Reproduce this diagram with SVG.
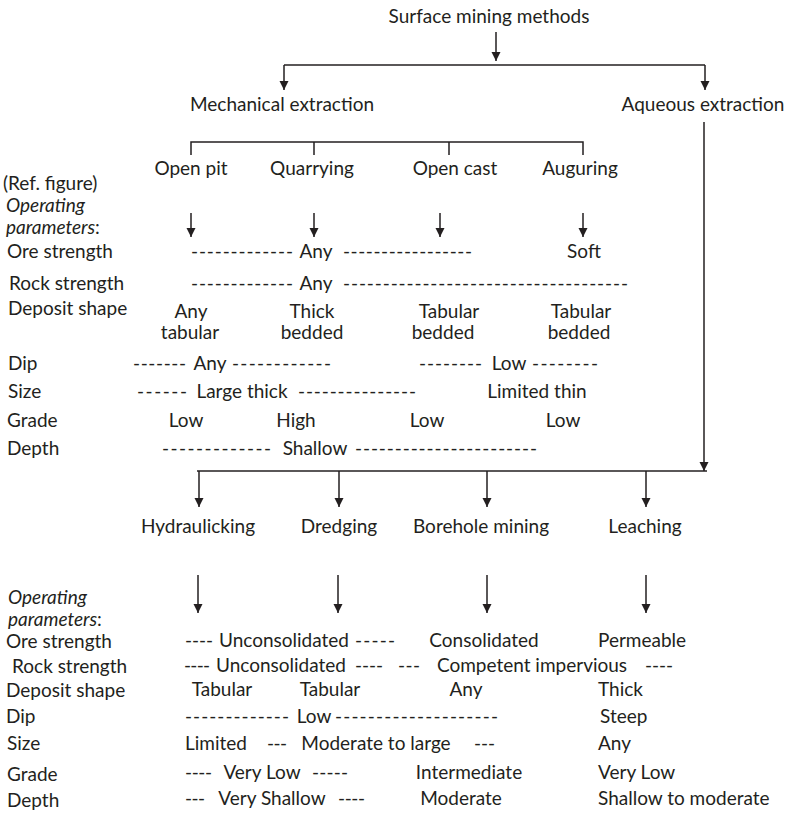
<svg xmlns="http://www.w3.org/2000/svg" width="789" height="816" viewBox="0 0 789 816">
  <style>
    text { font-family: Lato, "Open Sans", "Liberation Sans", sans-serif; font-size: 19px; fill: #231f20; }
    .c { text-anchor: middle; }
    .it { font-style: italic; }
    .ln { stroke: #231f20; stroke-width: 1.5; fill: none; }
    .ar { stroke: #231f20; stroke-width: 1.5; fill: none; marker-end: url(#tip); }
  </style>
  <defs>
    <marker id="tip" markerUnits="userSpaceOnUse" markerWidth="10" markerHeight="10" refX="9" refY="4.5" orient="auto">
      <path d="M0,0 L9,4.5 L0,9 z" fill="#231f20"/>
    </marker>
  </defs>
  <rect width="789" height="816" fill="#ffffff"/>

  <!-- connectors -->
  <g id="connectors">
    <line class="ar" x1="496" y1="32" x2="496" y2="61"/>
    <line class="ln" x1="284" y1="65" x2="705" y2="65"/>
    <line class="ar" x1="284" y1="65" x2="284" y2="90"/>
    <line class="ar" x1="705" y1="65" x2="705" y2="90"/>
    <!-- mechanical methods bracket -->
    <path class="ln" d="M191,155 V142 H583 V155 M314,142 V155 M449,142 V155"/>
    <line class="ar" x1="191" y1="213" x2="191" y2="237"/>
    <line class="ar" x1="314" y1="213" x2="314" y2="237"/>
    <line class="ar" x1="440" y1="213" x2="440" y2="237"/>
    <line class="ar" x1="583" y1="213" x2="583" y2="237"/>
    <!-- aqueous branch -->
    <line class="ar" x1="704" y1="122" x2="704" y2="471"/>
    <line class="ln" x1="197" y1="471" x2="707" y2="471"/>
    <line class="ar" x1="199" y1="471" x2="199" y2="507"/>
    <line class="ar" x1="339" y1="471" x2="339" y2="507"/>
    <line class="ar" x1="487" y1="471" x2="487" y2="507"/>
    <line class="ar" x1="646" y1="471" x2="646" y2="507"/>
    <line class="ar" x1="198" y1="575" x2="198" y2="613"/>
    <line class="ar" x1="338" y1="575" x2="338" y2="613"/>
    <line class="ar" x1="487" y1="575" x2="487" y2="613"/>
    <line class="ar" x1="646" y1="575" x2="646" y2="613"/>
  </g>

  <!-- hierarchy nodes -->
  <g id="surface-mining"><text class="c" x="489" y="23">Surface mining methods</text></g>
  <g id="mechanical"><text class="c" x="282" y="111">Mechanical extraction</text></g>
  <g id="aqueous"><text class="c" x="703" y="111">Aqueous extraction</text></g>
  <g id="open-pit"><text class="c" x="191" y="175">Open pit</text></g>
  <g id="quarrying"><text class="c" x="312" y="175">Quarrying</text></g>
  <g id="open-cast"><text class="c" x="455" y="175">Open cast</text></g>
  <g id="auguring"><text class="c" x="580" y="175">Auguring</text></g>
  <g id="hydraulicking"><text class="c" x="198" y="533">Hydraulicking</text></g>
  <g id="dredging"><text class="c" x="339" y="533">Dredging</text></g>
  <g id="borehole"><text class="c" x="481" y="533">Borehole mining</text></g>
  <g id="leaching"><text class="c" x="645" y="533">Leaching</text></g>

  <!-- mechanical extraction parameters -->
  <g id="mechanical-params">
    <text x="3" y="190">(Ref. figure)</text>
    <text x="6" y="212" class="it">Operating</text>
    <text x="6" y="234"><tspan class="it">parameters</tspan>:</text>
    <text x="7" y="258">Ore strength</text>
    <text x="9" y="290">Rock strength</text>
    <text x="8" y="315">Deposit shape</text>
    <text x="8" y="370">Dip</text>
    <text x="8" y="398">Size</text>
    <text x="7" y="427">Grade</text>
    <text x="7" y="455">Depth</text>

    <text x="191" y="258" textLength="102" lengthAdjust="spacing">-------------</text>
    <text class="c" x="316" y="258">Any</text>
    <text x="343" y="258" textLength="129" lengthAdjust="spacing">-----------------</text>
    <text class="c" x="584" y="258">Soft</text>

    <text x="191" y="290" textLength="102" lengthAdjust="spacing">-------------</text>
    <text class="c" x="316" y="290">Any</text>
    <text x="343" y="290" textLength="285" lengthAdjust="spacing">------------------------------------</text>

    <text class="c" x="191" y="318">Any</text>
    <text class="c" x="190" y="339">tabular</text>
    <text class="c" x="312" y="318">Thick</text>
    <text class="c" x="312" y="339">bedded</text>
    <text class="c" x="449" y="318">Tabular</text>
    <text class="c" x="443" y="339">bedded</text>
    <text class="c" x="581" y="318">Tabular</text>
    <text class="c" x="579" y="339">bedded</text>

    <text x="133" y="370" textLength="53" lengthAdjust="spacing">-------</text>
    <text class="c" x="210" y="370">Any</text>
    <text x="232" y="370" textLength="99" lengthAdjust="spacing">------------</text>
    <text x="419" y="370" textLength="63" lengthAdjust="spacing">--------</text>
    <text class="c" x="509" y="370">Low</text>
    <text x="532" y="370" textLength="66" lengthAdjust="spacing">--------</text>

    <text x="137" y="398" textLength="50" lengthAdjust="spacing">------</text>
    <text class="c" x="242" y="398">Large thick</text>
    <text x="298" y="398" textLength="118" lengthAdjust="spacing">---------------</text>
    <text class="c" x="537" y="398">Limited thin</text>

    <text class="c" x="186" y="427">Low</text>
    <text class="c" x="296" y="427">High</text>
    <text class="c" x="427" y="427">Low</text>
    <text class="c" x="563" y="427">Low</text>

    <text x="162" y="455" textLength="109" lengthAdjust="spacing">-------------</text>
    <text class="c" x="315" y="455">Shallow</text>
    <text x="355" y="455" textLength="182" lengthAdjust="spacing">-----------------------</text>
  </g>

  <!-- aqueous extraction parameters -->
  <g id="aqueous-params">
    <text x="8" y="604" class="it">Operating</text>
    <text x="8" y="626"><tspan class="it">parameters</tspan>:</text>
    <text x="6" y="648">Ore strength</text>
    <text x="12" y="673">Rock strength</text>
    <text x="6" y="697">Deposit shape</text>
    <text x="6" y="723">Dip</text>
    <text x="7" y="750">Size</text>
    <text x="7" y="781">Grade</text>
    <text x="7" y="807">Depth</text>

    <text x="185" y="647" textLength="28" lengthAdjust="spacing">----</text>
    <text class="c" x="284" y="647">Unconsolidated</text>
    <text x="355" y="647" textLength="40" lengthAdjust="spacing">-----</text>
    <text class="c" x="484" y="647">Consolidated</text>
    <text x="598" y="647">Permeable</text>

    <text x="184" y="672" textLength="26" lengthAdjust="spacing">----</text>
    <text class="c" x="281" y="672">Unconsolidated</text>
    <text x="355" y="672" textLength="28" lengthAdjust="spacing">----</text>
    <text x="398" y="672" textLength="22" lengthAdjust="spacing">---</text>
    <text class="c" x="532" y="672">Competent impervious</text>
    <text x="645" y="672" textLength="28" lengthAdjust="spacing">----</text>

    <text class="c" x="222" y="696">Tabular</text>
    <text class="c" x="330" y="696">Tabular</text>
    <text class="c" x="466" y="696">Any</text>
    <text x="598" y="696">Thick</text>

    <text x="185" y="723" textLength="104" lengthAdjust="spacing">-------------</text>
    <text class="c" x="314" y="723">Low</text>
    <text x="335" y="723" textLength="163" lengthAdjust="spacing">--------------------</text>
    <text x="600" y="723">Steep</text>

    <text class="c" x="216" y="750">Limited</text>
    <text x="267" y="750" textLength="20" lengthAdjust="spacing">---</text>
    <text class="c" x="376" y="750">Moderate to large</text>
    <text x="474" y="750" textLength="21" lengthAdjust="spacing">---</text>
    <text x="598" y="750">Any</text>

    <text x="185" y="779" textLength="27" lengthAdjust="spacing">----</text>
    <text class="c" x="262" y="779">Very Low</text>
    <text x="312" y="779" textLength="36" lengthAdjust="spacing">-----</text>
    <text class="c" x="469" y="779">Intermediate</text>
    <text x="598" y="779">Very Low</text>

    <text x="185" y="805" textLength="20" lengthAdjust="spacing">---</text>
    <text class="c" x="272" y="805">Very Shallow</text>
    <text x="338" y="805" textLength="27" lengthAdjust="spacing">----</text>
    <text class="c" x="461" y="805">Moderate</text>
    <text x="598" y="805">Shallow to moderate</text>
  </g>
</svg>
